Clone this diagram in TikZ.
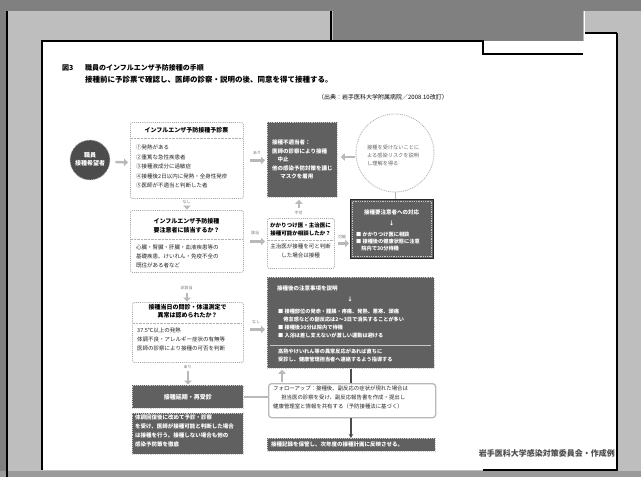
\documentclass[tikz,border=0pt]{standalone}
\usepackage{fontspec}
\setmainfont{Noto Sans CJK JP}
\usetikzlibrary{calc,arrows.meta}
\definecolor{bgdark}{HTML}{808080}
\definecolor{bglight}{HTML}{BEBEBE}
\definecolor{bgbottom}{HTML}{9A9A9A}
\definecolor{boxdark}{HTML}{606060}
\definecolor{lblgray}{HTML}{707070}
\tikzset{
  wbox/.style={draw=gray!70, densely dotted, line width=0.9pt, fill=white, rounded corners=2pt, inner sep=0, anchor=north west},
  dbox/.style={draw=gray!40, densely dotted, line width=0.9pt, fill=boxdark, inner sep=0, anchor=north west},
  fat/.style={draw=gray!55, line width=2.4pt, -{Triangle[length=4pt,width=7.5pt]}},
  lbl/.style={font=\fontsize{4}{4}\selectfont, text=lblgray, inner sep=0},
  tx/.style={font=\fontsize{5.5}{8.7}\selectfont, text=black!85, inner sep=0, align=left, anchor=north west},
  wtx/.style={tx, text=white},
  ttl/.style={font=\bfseries\fontsize{6}{9}\selectfont, inner sep=0, align=center},
  hd/.style={font=\bfseries\fontsize{7}{7}\selectfont, inner sep=0, anchor=west},
}
\begin{document}
\begin{tikzpicture}[x=1pt,y=-1pt]
\useasboundingbox (0,0) rectangle (641,477);
% ---------- scanned background ----------
\fill[bglight] (0,0) rectangle (641,477);
\fill[bgdark] (0,0) rectangle (641,11);
\fill[bgdark] (0,0) rectangle (6,477);
\fill[bgbottom] (0,471) rectangle (641,477);
\fill[bgdark] (333,0) -- (583,0) -- (583,54) -- (483,54) -- (483,41) -- (333,41) -- cycle;
\fill[white] (42,41) rectangle (617,470);
\fill[white] (585,33) rectangle (617,41);
\draw[black, line width=1.6pt] (7,11) -- (7,477);
\draw[black, line width=1.2pt] (331,11) -- (331,41);
\draw[black, line width=1.2pt] (42,470) -- (42,41) -- (483,41) -- (483,54) -- (583,54);
\draw[white, line width=1pt] (584,11) -- (584,54);
\draw[black, line width=1.2pt] (585,33) -- (617,33);
\draw[black, line width=2pt] (617,33) -- (617,470) -- (483,470);
% ---------- header ----------
\node[hd] (fig) at (62,68) {図3};
\node[hd] (h1) at (85,68) {職員のインフルエンザ予防接種の手順};
\node[hd, font=\bfseries\fontsize{7.5}{7.5}\selectfont] (h2) at (85,80) {接種前に予診票で確認し、医師の診察・説明の後、同意を得て接種する。};
\node[inner sep=0, anchor=east, font=\fontsize{6}{6}\selectfont] (src) at (448,97) {（出典：岩手医科大学附属病院／2008.10改訂）};
% ---------- start circle ----------
\node[circle, fill=black!70, draw=gray!40, densely dotted, line width=0.8pt, minimum size=40pt, inner sep=0] (c0) at (90,160) {};
\node[inner sep=0, align=center, text=white, font=\bfseries\fontsize{6}{8}\selectfont] (c0t) at (90,159) {職員\\接種希望者};
% ---------- box 1 ----------
\node[wbox, minimum width=113pt, minimum height=76pt] (b1) at (130,122) {};
\node[ttl] (b1t) at (186.5,130) {インフルエンザ予防接種予診票};
\draw[gray!60, densely dotted] (131,138) -- (242,138);
\node[tx, font=\fontsize{5.5}{9.4}\selectfont] (b1b) at (136,145) {①発熱がある\\②重篤な急性疾患者\\③接種液成分に過敏症\\④接種後2日以内に発熱・全身性発疹\\⑤医師が不適当と判断した者};
% ---------- box 2 ----------
\node[dbox, minimum width=70pt, minimum height=75pt] (b2) at (267,122) {};
\node[wtx, font=\bfseries\fontsize{5.5}{8.5}\selectfont] (b2b) at (272,140) {接種不適当者：\\医師の診察により接種\\\hspace{1em}中止\\他の感染予防対策を講じ\\\hspace{1.5em}マスクを着用};
% ---------- dashed circle ----------
\node[circle, draw=gray!60, densely dotted, line width=0.9pt, minimum size=78pt, inner sep=0] (c1) at (395,153) {};
\node[tx, text=gray!80!black, font=\fontsize{5.2}{8}\selectfont] (c1t) at (367,145) {接種を受けないことに\\よる感染リスクを説明\\し理解を得る};
% ---------- box 6 ----------
\node[dbox, draw=black!85, solid, line width=1.3pt, minimum width=83pt, minimum height=59pt] (b6) at (350,199) {};
\draw[gray!45, densely dotted, line width=0.8pt] ($(b6.north west)+(2.5,2.5)$) rectangle ($(b6.south east)+(-2.5,-2.5)$);
\node[inner sep=0, text=white, font=\bfseries\fontsize{5.5}{5.5}\selectfont] (b6t) at (391.5,212) {接種要注意者への対応};
\node[inner sep=0, text=white, font=\bfseries\fontsize{5.5}{5.5}\selectfont] (b6a) at (391.5,223) {↓};
\node[wtx, font=\bfseries\fontsize{5.2}{7}\selectfont] (b6b) at (356,232) {■ かかりつけ医に相談\\■ 接種後の健康状態に注意\\\hspace{1em}院内で30分待機};
% ---------- box 3 ----------
\node[wbox, minimum width=113pt, minimum height=62pt] (b3) at (130,210) {};
\node[ttl] (b3t) at (186.5,225.5) {インフルエンザ予防接種\\要注意者に該当するか？};
\draw[gray!60, densely dotted] (131,239) -- (242,239);
\node[tx, font=\fontsize{5.5}{8.6}\selectfont] (b3b) at (136,245) {心臓・腎臓・肝臓・血液疾患等の\\基礎疾患、けいれん・免疫不全の\\既往がある者など};
% ---------- box 4 ----------
\node[wbox, minimum width=67pt, minimum height=50pt] (b4) at (267,218) {};
\node[ttl, font=\bfseries\fontsize{5.5}{8}\selectfont] (b4t) at (300.5,229) {かかりつけ医・主治医に\\接種可能か相談したか？};
\draw[gray!60, densely dotted] (268,240) -- (333,240);
\node[tx, align=center, anchor=north] (b4b) at (300.5,244) {主治医が接種を可と判断\\した場合は接種};
% ---------- box 10 ----------
\node[wbox, minimum width=111pt, minimum height=60pt] (b10) at (132,302) {};
\node[ttl, font=\bfseries\fontsize{6}{8}\selectfont] (b10t) at (187.5,311) {接種当日の問診・体温測定で\\異常は認められたか？};
\draw[gray!60, densely dotted] (133,323) -- (242,323);
\node[tx, font=\fontsize{5.5}{9}\selectfont] (b10b) at (137,328) {37.5℃以上の発熱\\体調不良・アレルギー症状の有無等\\医師の診察により接種の可否を判断};
% ---------- box 5 ----------
\node[dbox, minimum width=167pt, minimum height=91pt] (b5) at (267,277) {};
\node[inner sep=0, anchor=west, text=white, font=\bfseries\fontsize{5.5}{5.5}\selectfont] (b5t) at (277,288) {接種後の注意事項を説明};
\node[inner sep=0, text=white, font=\bfseries\fontsize{5.5}{5.5}\selectfont] (b5a) at (350,299) {↓};
\node[wtx, font=\bfseries\fontsize{5.2}{8}\selectfont] (b5b) at (278,309) {■ 接種部位の発赤・腫脹・疼痛、発熱、悪寒、頭痛\\\hspace{1em}倦怠感などの副反応は2〜3日で消失することが多い\\■ 接種後30分は院内で待機\\■ 入浴は差し支えないが激しい運動は避ける};
\draw[gray!45, line width=0.6pt] (270,345) -- (431,345);
\node[wtx, font=\bfseries\fontsize{5.2}{7.5}\selectfont] (b5c) at (278,349) {高熱やけいれん等の異常反応があれば直ちに\\受診し、健康管理担当者へ連絡するよう指導する};
% ---------- box 9 / 11 ----------
\node[dbox, minimum width=111pt, minimum height=23pt, text=white, font=\bfseries\fontsize{6}{6}\selectfont] (b9) at (132,385) {接種延期・再受診};
\node[dbox, minimum width=111pt, minimum height=41pt] (b11) at (132,413) {};
\node[wtx, font=\bfseries\fontsize{5.5}{8.7}\selectfont] (b11b) at (135,415) {体調回復後に改めて予診・診察\\を受け、医師が接種可能と判断した場合\\は接種を行う。接種しない場合も他の\\感染予防策を徹底};
% ---------- box 7 / 8 ----------
\node[wbox, solid, draw=gray!55, line width=1.3pt, rounded corners=3pt, minimum width=167pt, minimum height=34pt] (b7) at (268,383) {};
\node[tx, font=\fontsize{5.4}{8.8}\selectfont] (b7b) at (273,386) {フォローアップ：接種後、副反応の症状が現れた場合は\\\hspace{1.5em}担当医の診察を受け、副反応報告書を作成・提出し\\健康管理室と情報を共有する（予防接種法に基づく）};
\node[dbox, minimum width=168pt, minimum height=13pt] (b8) at (267,438) {};
\node[inner sep=0, anchor=west, text=white, font=\bfseries\fontsize{5.5}{5.5}\selectfont] (b8t) at (271,444.5) {接種記録を保管し、次年度の接種計画に反映させる。};
% ---------- footer ----------
\node[inner sep=0, anchor=east, text=black!70, font=\bfseries\fontsize{8}{8}\selectfont] (foot) at (615,453) {岩手医科大学感染対策委員会・作成例};
% ---------- connectors ----------
\draw[fat] ($(c0.east)+(5,2)$) -- ($(b1.west)+(-2,2)$);
\node[lbl] (l1) at (257,153) {あり};
\draw[fat] ($(b1.east)+(6,0)$) -- ($(b1.east -| b2.west)+(-2,0)$);
\draw[fat] ($(c1.west)+(-1,4)$) -- ($(c1.west -| b2.east)+(3,4)$);
\draw[gray!60, line width=1pt] (c1.south) -- (c1.south |- b6.north);
\node[lbl] (l2) at (186.5,202) {なし};
\draw[fat] ($(b1.south)+(0,7)$) -- ($(b3.north)+(0,-0.5)$);
\node[lbl] (l3) at (255,233) {該当};
\draw[fat] ($(b3.east)+(6,0)$) -- ($(b3.east -| b4.west)+(-2,0)$);
\node[lbl] (l4) at (298.5,213) {不可};
\draw[fat] ($(b4.north)+(-2,-10)$) -- ($(b4.north |- b2.south)+(-2,2)$);
\node[lbl] (l5) at (342,237) {可能};
\draw[fat] ($(b4.east)+(3,0)$) -- ($(b4.east -| b6.west)+(-1,0)$);
\node[lbl] (l6) at (186.5,288) {非該当};
\draw[fat] ($(b3.south)+(0,20)$) -- ($(b3.south |- b10.north)+(0,-0.5)$);
\node[lbl] (l7) at (256,322) {なし};
\draw[fat] ($(b10.east)+(6,-3)$) -- ($(b10.east -| b5.west)+(-2,-3)$);
\node[lbl] (l8) at (187.5,367) {あり};
\draw[fat] ($(b10.south)+(0,8)$) -- ($(b10.south |- b9.north)+(0,-0.5)$);
\draw[gray!55, line width=1.5pt] (b9.east) -- (b9.east -| b7.west);
\draw[black!70, line width=1.5pt] (b5.south) -- (b5.south |- b7.north);
\draw[black!70, line width=1.5pt, -{Stealth[length=4pt,width=4.5pt]}] (b5.south |- b7.south) -- (b5.south |- b8.north);
\draw[fat] ($(b7.north west)+(14,-1)$) -- ($(b7.north west |- b5.south)+(14,1)$);
\end{tikzpicture}
\end{document}
